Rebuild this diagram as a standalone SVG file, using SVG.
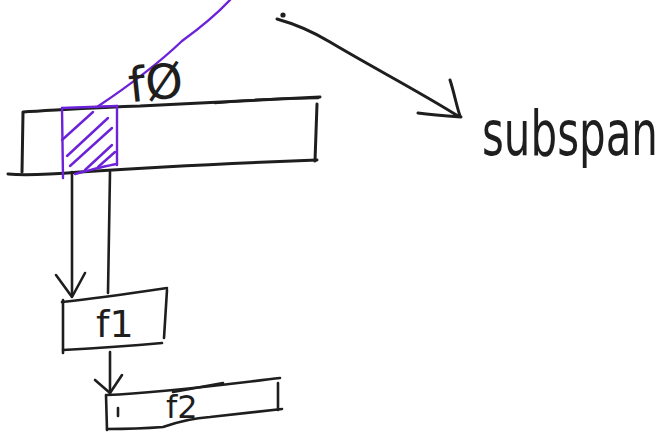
<svg xmlns="http://www.w3.org/2000/svg" width="666" height="436" viewBox="0 0 666 436">
  <style>
    .ink { fill: none; stroke: #1e1e1e; stroke-width: 3; stroke-linecap: round; stroke-linejoin: round; }
    .ink-thin { fill: none; stroke: #1e1e1e; stroke-width: 2.6; stroke-linecap: round; stroke-linejoin: round; }
    .violet { fill: none; stroke: #6b22d8; stroke-width: 2.4; stroke-linecap: round; stroke-linejoin: round; }
    .label { font-family: "DejaVu Sans", "Liberation Sans", sans-serif; fill: #1e1e1e; }
  </style>
  <rect width="666" height="436" fill="#ffffff"/>

  <!-- main span bar -->
  <g id="span">
    <path class="ink" d="M23,112 C60,110 100,107 140,106 C180,104 250,101 320,97"/>
    <path class="ink-thin" d="M215,103 C250,100 290,98 318,98"/>
    <path class="ink" d="M23,113 L22,172"/>
    <path class="ink" d="M8,174 C30,176 55,174 80,172 C140,168 220,164 267,162 L317,160"/>
    <path class="ink" d="M317,104 L315,161"/>
  </g>

  <!-- highlighted subspan cell -->
  <g id="subspan-cell">
    <path class="violet" d="M62,108 L63,178"/>
    <path class="violet" d="M62,108 L117,106"/>
    <path class="violet" d="M117,106 L117,165"/>
    <path class="violet" d="M75,174 C90,170 105,166 117,164"/>
    <path class="violet" d="M62,140 L93,112"/>
    <path class="violet" d="M67,156 L108,118"/>
    <path class="violet" d="M70,166 L112,128"/>
    <path class="violet" d="M85,170 L112,145"/>
    <path class="violet" d="M98,167 L115,152"/>
    <!-- selection stroke -->
    <path class="violet" d="M97,107 C130,85 160,62 182,41 C200,28 215,16 230,0"/>
  </g>

  <g id="label-f0">
    <text class="label" x="128" y="100" font-size="48" transform="rotate(-6 150 80)">fØ</text>
  </g>

  <g id="subspan-label">
    <text class="label" font-size="42" transform="translate(482,155) scale(1,1.5)">subspan</text>
  </g>

  <g id="f1">
    <path class="ink-thin" d="M62,302 C100,298 140,292 167,288"/>
    <path class="ink-thin" d="M63,300 L63,353"/>
    <path class="ink-thin" d="M63,350 C100,348 140,345 162,343"/>
    <path class="ink-thin" d="M167,290 L164,338"/>
    <text class="label" x="96" y="337" font-size="38">f1</text>
  </g>

  <g id="f2">
    <path class="ink-thin" d="M107,395 C160,393 220,385 280,378"/>
    <path class="ink-thin" d="M173,392 L223,383"/>
    <path class="ink-thin" d="M106,395 L107,430"/>
    <path class="ink-thin" d="M107,429 C130,429 150,428 163,427 C180,421 195,418 210,417 L282,409"/>
    <path class="ink-thin" d="M278,383 L278,410"/>
    <path class="ink-thin" d="M118,408 L118,416"/>
    <text class="label" x="166" y="418" font-size="32">f2</text>
  </g>

  <g id="connectors">
    <!-- pointer to the subspan label -->
    <circle cx="283" cy="15" r="2.6" fill="#1e1e1e"/>
    <path class="ink" stroke-width="3.4" d="M277,19 C295,24 310,30 330,42 C370,66 420,92 458,116"/>
    <path class="ink" stroke-width="3.4" d="M450,80 C454,92 456,104 460,116"/>
    <path class="ink" stroke-width="3.4" d="M418,113 C432,115 446,116 461,117"/>

    <!-- bar to f1 -->
    <path class="ink-thin" d="M72,172 L72,296"/>
    <path class="ink-thin" d="M56,275 L72,297 L85,273"/>
    <path class="ink-thin" d="M110,172 L108,293"/>

    <!-- f1 to f2 -->
    <path class="ink-thin" d="M110,352 L110,393"/>
    <path class="ink-thin" d="M95,380 L110,393 L122,375"/>
  </g>
</svg>
